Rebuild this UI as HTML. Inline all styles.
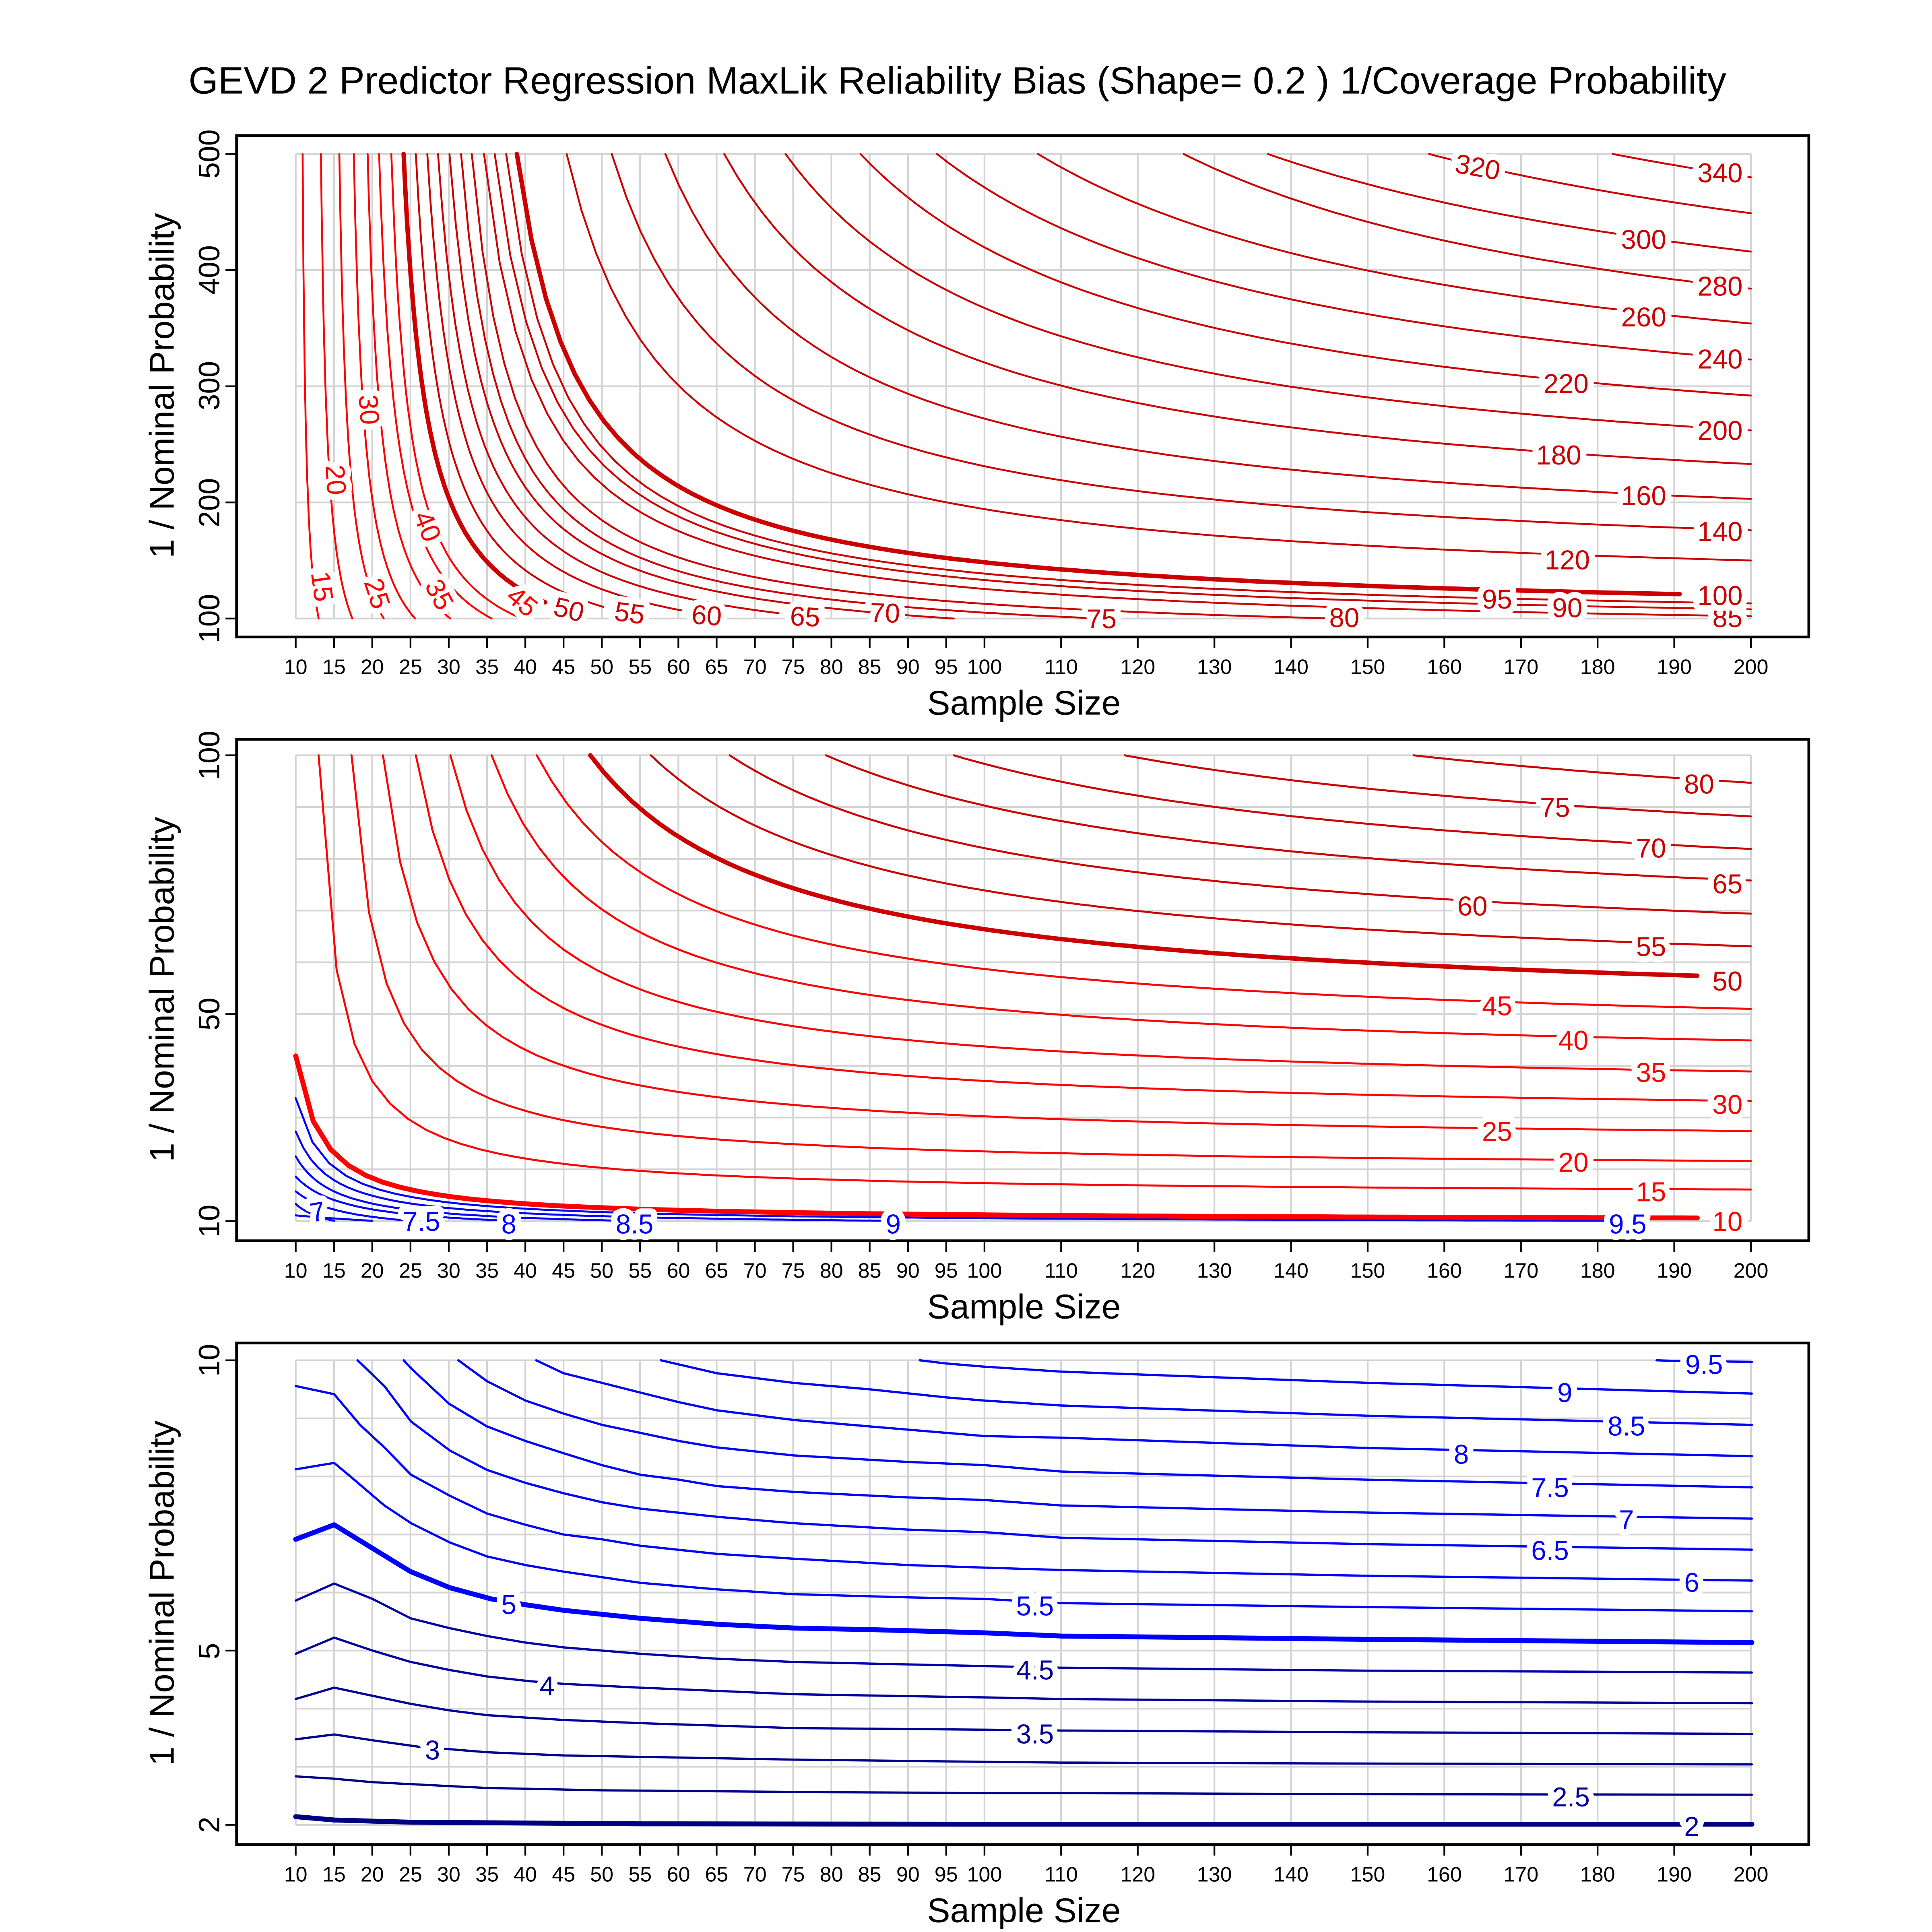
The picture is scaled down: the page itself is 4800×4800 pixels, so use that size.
<!DOCTYPE html>
<html><head><meta charset="utf-8">
<style>
html,body{margin:0;padding:0;background:#fff;}
svg{display:block;}
text{font-family:"Liberation Sans",Arial,sans-serif;}
.xt{font-size:17px;text-anchor:middle;fill:#000;}
.yt{font-size:24px;text-anchor:middle;fill:#000;}
.at{font-size:28px;text-anchor:middle;fill:#000;}
.cl{font-size:22px;text-anchor:middle;stroke:#fff;stroke-width:10px;paint-order:stroke;stroke-linejoin:round;}
.r{fill:#ff0000;} .d{fill:#cc0000;} .b{fill:#0000ff;} .n{fill:#00009a;}
</style></head><body>
<svg id="s" xmlns="http://www.w3.org/2000/svg" width="4800" height="4800" viewBox="0 0 1568 1568">
<rect width="1568" height="1568" fill="#fff"/>
<g id="grid"></g>
<g id="curves" fill="none" stroke-linejoin="round" stroke-linecap="round"></g>
<g id="frame"></g>
<text x="777" y="76" style="font-size:31px;text-anchor:middle">GEVD 2 Predictor Regression MaxLik Reliability Bias (Shape= 0.2 ) 1/Coverage Probability</text>

<!-- y axis titles -->
<text class="at" transform="translate(141,313) rotate(-90)">1 / Nominal Probability</text>
<text class="at" transform="translate(141,803) rotate(-90)">1 / Nominal Probability</text>
<text class="at" transform="translate(141,1293) rotate(-90)">1 / Nominal Probability</text>
<!-- x axis titles -->
<text class="at" x="831" y="580">Sample Size</text>
<text class="at" x="831" y="1070">Sample Size</text>
<text class="at" x="831" y="1560">Sample Size</text>

<!-- y tick labels -->
<text class="yt" transform="translate(178,502) rotate(-90)">100</text>
<text class="yt" transform="translate(178,408) rotate(-90)">200</text>
<text class="yt" transform="translate(178,313) rotate(-90)">300</text>
<text class="yt" transform="translate(178,219) rotate(-90)">400</text>
<text class="yt" transform="translate(178,125) rotate(-90)">500</text>
<text class="yt" transform="translate(178,991) rotate(-90)">10</text>
<text class="yt" transform="translate(178,823) rotate(-90)">50</text>
<text class="yt" transform="translate(178,613) rotate(-90)">100</text>
<text class="yt" transform="translate(178,1481) rotate(-90)">2</text>
<text class="yt" transform="translate(178,1340) rotate(-90)">5</text>
<text class="yt" transform="translate(178,1104) rotate(-90)">10</text>

<!-- x tick labels panel 1 -->
<g class="xt">
<text x="240" y="547">10</text><text x="271.1" y="547">15</text><text x="302.1" y="547">20</text><text x="333.2" y="547">25</text><text x="364.2" y="547">30</text><text x="395.3" y="547">35</text><text x="426.3" y="547">40</text><text x="457.4" y="547">45</text><text x="488.4" y="547">50</text><text x="519.5" y="547">55</text><text x="550.6" y="547">60</text><text x="581.6" y="547">65</text><text x="612.7" y="547">70</text><text x="643.7" y="547">75</text><text x="674.8" y="547">80</text><text x="705.8" y="547">85</text><text x="736.9" y="547">90</text><text x="767.9" y="547">95</text><text x="799" y="547">100</text><text x="861.2" y="547">110</text><text x="923.4" y="547">120</text><text x="985.6" y="547">130</text><text x="1047.8" y="547">140</text><text x="1110" y="547">150</text><text x="1172.2" y="547">160</text><text x="1234.4" y="547">170</text><text x="1296.6" y="547">180</text><text x="1358.8" y="547">190</text><text x="1421" y="547">200</text>
</g>
<g class="xt">
<text x="240" y="1037">10</text><text x="271.1" y="1037">15</text><text x="302.1" y="1037">20</text><text x="333.2" y="1037">25</text><text x="364.2" y="1037">30</text><text x="395.3" y="1037">35</text><text x="426.3" y="1037">40</text><text x="457.4" y="1037">45</text><text x="488.4" y="1037">50</text><text x="519.5" y="1037">55</text><text x="550.6" y="1037">60</text><text x="581.6" y="1037">65</text><text x="612.7" y="1037">70</text><text x="643.7" y="1037">75</text><text x="674.8" y="1037">80</text><text x="705.8" y="1037">85</text><text x="736.9" y="1037">90</text><text x="767.9" y="1037">95</text><text x="799" y="1037">100</text><text x="861.2" y="1037">110</text><text x="923.4" y="1037">120</text><text x="985.6" y="1037">130</text><text x="1047.8" y="1037">140</text><text x="1110" y="1037">150</text><text x="1172.2" y="1037">160</text><text x="1234.4" y="1037">170</text><text x="1296.6" y="1037">180</text><text x="1358.8" y="1037">190</text><text x="1421" y="1037">200</text>
</g>
<g class="xt">
<text x="240" y="1527">10</text><text x="271.1" y="1527">15</text><text x="302.1" y="1527">20</text><text x="333.2" y="1527">25</text><text x="364.2" y="1527">30</text><text x="395.3" y="1527">35</text><text x="426.3" y="1527">40</text><text x="457.4" y="1527">45</text><text x="488.4" y="1527">50</text><text x="519.5" y="1527">55</text><text x="550.6" y="1527">60</text><text x="581.6" y="1527">65</text><text x="612.7" y="1527">70</text><text x="643.7" y="1527">75</text><text x="674.8" y="1527">80</text><text x="705.8" y="1527">85</text><text x="736.9" y="1527">90</text><text x="767.9" y="1527">95</text><text x="799" y="1527">100</text><text x="861.2" y="1527">110</text><text x="923.4" y="1527">120</text><text x="985.6" y="1527">130</text><text x="1047.8" y="1527">140</text><text x="1110" y="1527">150</text><text x="1172.2" y="1527">160</text><text x="1234.4" y="1527">170</text><text x="1296.6" y="1527">180</text><text x="1358.8" y="1527">190</text><text x="1421" y="1527">200</text>
</g>

<!-- contour labels panel 1 -->
<g class="cl">
<text class="r" transform="translate(254,477) rotate(82)">15</text>
<text class="r" transform="translate(265,390) rotate(86)">20</text>
<text class="r" transform="translate(292,333) rotate(86)">30</text>
<text class="r" transform="translate(299,484) rotate(72)">25</text>
<text class="r" transform="translate(340,430) rotate(68)">40</text>
<text class="r" transform="translate(350,486) rotate(62)">35</text>
<text class="r" transform="translate(419,494) rotate(40)">45</text>
<text class="d" transform="translate(460,502) rotate(14)">50</text>
<text class="d" transform="translate(510,505) rotate(8)">55</text>
<text class="d" transform="translate(573,507) rotate(4)">60</text>
<text class="d" transform="translate(653,508) rotate(3)">65</text>
<text class="d" transform="translate(718,505) rotate(2)">70</text>
<text class="d" x="894" y="510">75</text>
<text class="d" x="1091" y="509">80</text>
<text class="d" x="1402" y="509">85</text>
<text class="d" x="1272" y="501">90</text>
<text class="d" x="1215" y="494">95</text>
<text class="d" x="1396" y="491">100</text>
<text class="d" x="1272" y="462">120</text>
<text class="d" x="1396" y="439">140</text>
<text class="d" x="1334" y="410">160</text>
<text class="d" x="1265" y="377">180</text>
<text class="d" x="1396" y="357">200</text>
<text class="d" x="1271" y="319">220</text>
<text class="d" x="1396" y="299">240</text>
<text class="d" x="1334" y="265">260</text>
<text class="d" x="1396" y="240">280</text>
<text class="d" x="1334" y="202">300</text>
<text class="d" transform="translate(1198,143) rotate(10)">320</text>
<text class="d" x="1396" y="148">340</text>
</g>
<!-- contour labels panel 2 -->
<g class="cl">
<text class="d" x="1379" y="644">80</text>
<text class="d" x="1262" y="663">75</text>
<text class="d" x="1340" y="696">70</text>
<text class="d" x="1402" y="725">65</text>
<text class="d" x="1195" y="743">60</text>
<text class="d" x="1340" y="776">55</text>
<text class="d" x="1402" y="804">50</text>
<text class="r" x="1215" y="824">45</text>
<text class="r" x="1277" y="852">40</text>
<text class="r" x="1340" y="878">35</text>
<text class="r" x="1402" y="904">30</text>
<text class="r" x="1215" y="926">25</text>
<text class="r" x="1277" y="951">20</text>
<text class="r" x="1340" y="975">15</text>
<text class="r" x="1402" y="999">10</text>
<text class="b" x="1321" y="1001">9.5</text>
<text class="b" x="725" y="1001">9</text>
<text class="b" x="515" y="1001">8.5</text>
<text class="b" x="413" y="1001">8</text>
<text class="b" x="342" y="999">7.5</text>
<text class="b" transform="translate(259,991) rotate(-10)">7</text>
</g>
<!-- contour labels panel 3 -->
<g class="cl">
<text class="b" x="1383" y="1115">9.5</text>
<text class="b" x="1270" y="1138">9</text>
<text class="b" x="1320" y="1165">8.5</text>
<text class="b" x="1186" y="1188">8</text>
<text class="b" x="1258" y="1215">7.5</text>
<text class="b" x="1320" y="1241">7</text>
<text class="b" x="1258" y="1266">6.5</text>
<text class="b" x="1373" y="1292">6</text>
<text class="b" x="840" y="1311">5.5</text>
<text class="b" x="413" y="1310">5</text>
<text class="n" x="840" y="1363">4.5</text>
<text class="n" x="444" y="1376">4</text>
<text class="n" x="840" y="1415">3.5</text>
<text class="n" x="351" y="1428">3</text>
<text class="n" x="1275" y="1466">2.5</text>
<text class="n" x="1373" y="1490">2</text>
</g>
</svg>
<script>
(function(){
var NS='http://www.w3.org/2000/svg';
function add(g,tag,a){var e=document.createElementNS(NS,tag);for(var k in a)e.setAttribute(k,a[k]);document.getElementById(g).appendChild(e);return e;}
function X(n){return n<=100?240+(n-10)*6.2111:799+(n-100)*6.22;}
var ticks=[];for(var n=10;n<=100;n+=5)ticks.push(n);for(n=110;n<=200;n+=10)ticks.push(n);
var P=[
 {top:110,Y:function(p){return 502-(p-100)*0.9425;},pmin:100,pmax:500,grid:[100,200,300,400,500]},
 {top:600,Y:function(p){return 991-(p-10)*4.2;},pmin:10,pmax:100,grid:[10,20,30,40,50,60,70,80,90,100]},
 {top:1090,Y:function(p){return 1481-(p-2)*47.125;},pmin:2,pmax:10,grid:[2,3,4,5,6,7,8,9,10]}
];
P.forEach(function(pn){
 var y0=pn.Y(pn.pmax),y1=pn.Y(pn.pmin);
 ticks.forEach(function(t){add('grid','line',{x1:X(t),x2:X(t),y1:y0,y2:y1,stroke:'#d3d3d3','stroke-width':1.4});
   add('frame','line',{x1:X(t),x2:X(t),y1:pn.top+407,y2:pn.top+416,stroke:'#000','stroke-width':1.4});});
 pn.grid.forEach(function(p){add('grid','line',{x1:240,x2:1421,y1:pn.Y(p),y2:pn.Y(p),stroke:'#d3d3d3','stroke-width':1.4});});
 add('frame','rect',{x:192,y:pn.top,width:1276,height:407,fill:'none',stroke:'#000','stroke-width':2.2});
});
[[0,[100,200,300,400,500]],[1,[10,50,100]],[2,[2,5,10]]].forEach(function(a){
 var pn=P[a[0]];a[1].forEach(function(p){add('frame','line',{x1:183,x2:192,y1:pn.Y(p),y2:pn.Y(p),stroke:'#000','stroke-width':1.4});});});

function path(pts,col,w){var d='';pts.forEach(function(q,i){d+=(i?'L':'M')+q[0].toFixed(1)+' '+q[1].toFixed(1);});
 add('curves','path',{d:d,stroke:col,'stroke-width':w});}
function hyper(pn,L,n1,p1,n2,p2,col,w){
 var a=p1-L,b=p2-L,n0=(n1*a-n2*b)/(a-b),k=(n1-n0)*a,pts=[];
 for(var i=0;i<=80;i++){var nn=n1+(n2-n1)*i/80;var p=L+k/(nn-n0);pts.push([X(nn),pn.Y(p)]);}
 path(pts,col,w);}
var R='#ff0000',D='#cc0000',B='#0000ff';
var p1=P[0];
[[15,10.9,500,13.0,100],[20,13.3,500,17.4,100],[25,15.7,500,21.5,100],[30,17.6,500,25.6,100],
 [35,19.4,500,30.2,100],[40,20.9,500,35.6,100],[45,22.5,500,39.5,100]].forEach(function(c){hyper(p1,c[0],c[1],c[2],c[3],c[4],R,1.5);});
hyper(p1,50,24.1,500,42.6,114,D,3.6);
[[55,25.7,500,50.2,110],[60,27.2,500,60.4,107],[65,28.6,500,73.1,104.6],[70,30.1,500,96,100],
 [75,31.6,500,115,100],[80,33.0,500,146,100],[85,34.6,500,200,102],[90,36.0,500,200,108],[95,37.5,500,200,113]].forEach(function(c){hyper(p1,c[0],c[1],c[2],c[3],c[4],D,1.5);});
hyper(p1,100,38.9,500,190.7,121,D,3.6);
[[120,45.4,150],[140,51.3,176],[160,58.3,203],[180,66,233],[200,74,262],[220,83.8,292],[240,93.8,323],
 [260,107,354],[280,126,384],[300,137,416],[320,158,449],[340,182,480]].forEach(function(c){hyper(p1,c[0],c[1],500,200,c[2],D,1.5);});
var p2=P[1];
[[15,13.0,16.1],[20,17.3,21.6],[25,21.4,27.4],[30,25.7,33.2],[35,30.2,38.9],[40,35.6,44.9],[45,41.5,51]].forEach(function(c){hyper(p2,c[0],c[1],100,200,c[2],R,1.6);});
hyper(p2,50,48.5,100,193,57.4,D,3.6);
[[55,56.4,63.1],[60,66.7,69.4],[65,79.3,75.8],[70,96,81.9],[75,118.3,88.2],[80,156,94.7]].forEach(function(c){hyper(p2,c[0],c[1],100,200,c[2],D,1.6);});
[[6.5,11.1,20],[7,13.3,15],[7.5,15.75,25],[8,18.6,38],[8.5,22.5,53],[9,27.3,88],[9.5,33.75,185]].forEach(function(c){hyper(p2,c[0],10,c[1],c[2],10.05,B,1.6);});
hyper(p2,10,10,41.9,193,10.6,R,4);
function ln(zx){return 10+(zx-28)/15.72;} function rn(zx){return 110+(zx-115)/15.7;}
function Y3(zy){return 1104+(zy-50)*0.2618;}
var C3=[
 [9.5,[],[[1335,50],[1372,52],[1530,55]]],
 [9,[[1310,50],[1364,60],[1443,70]],[[115,85],[743,120],[1530,153]]],
 [8.5,[[778,50],[893,90],[1050,120],[1208,140],[1364,165],[1443,175]],[[115,190],[743,222],[1530,250]]],
 [8,[[522,50],[578,90],[657,120],[736,150],[815,180],[893,205],[1050,235],[1208,255],[1364,275],[1443,285]],[[115,290],[743,322],[1530,347]]],
 [7.5,[[362,50],[421,115],[500,175],[578,215],[657,250],[736,275],[815,300],[893,320],[1050,345],[1286,365],[1443,375]],[[115,395],[743,420],[1530,444]]],
 [7,[[250,50],[265,75],[343,185],[421,255],[500,300],[578,338],[657,375],[736,405],[815,420],[893,440],[1050,458],[1286,475],[1443,483]],[[115,500],[743,522],[1530,541]]],
 [6.5,[[155,50],[210,130],[265,240],[345,330],[421,390],[500,430],[578,462],[657,490],[736,510],[893,535],[1050,555],[1286,575],[1443,583]],[[115,600],[743,620],[1530,637]]],
 [6,[[28,130],[107,155],[160,250],[210,320],[265,405],[345,470],[421,525],[500,560],[578,590],[657,605],[736,625],[893,650],[1050,665],[1286,685],[1443,693]],[[115,700],[743,718],[1530,733]]],
 [5.5,[[28,388],[107,368],[140,410],[210,500],[265,555],[345,615],[421,658],[500,685],[578,705],[736,740],[893,760],[1050,775],[1286,785],[1443,790]],[[115,803],[743,815],[1530,828]]],
 [5,[[28,605],[107,560],[264,705],[345,755],[430,790],[500,808],[578,825],[736,850],[893,868],[1050,880],[1208,885],[1443,895]],[[115,905],[743,915],[1530,925]]],
 [4.5,[[28,795],[107,742],[186,790],[264,850],[343,880],[421,905],[500,925],[578,940],[736,960],[893,975],[1050,985],[1443,998]],[[115,1003],[743,1012],[1530,1018]]],
 [4,[[28,960],[107,910],[186,950],[264,985],[343,1010],[421,1030],[510,1045],[578,1053],[736,1065],[893,1075],[1050,1085],[1443,1095]],[[115,1100],[743,1108],[1530,1113]]],
 [3.5,[[28,1100],[107,1065],[186,1090],[264,1115],[343,1135],[421,1150],[578,1165],[736,1175],[1050,1190],[1443,1195]],[[115,1198],[743,1203],[1530,1208]]],
 [3,[[28,1225],[107,1210],[186,1228],[280,1248],[421,1265],[578,1275],[1050,1288],[1443,1295]],[[115,1297],[743,1300],[1530,1303]]],
 [2.5,[[28,1340],[107,1347],[186,1358],[343,1370],[421,1376],[657,1383],[1050,1388],[1443,1392]],[[115,1392],[743,1395],[1530,1397]]],
 [2,[[28,1465],[107,1475],[264,1482],[736,1487],[1443,1488]],[[115,1488],[743,1488],[1530,1488]]]
];
C3.forEach(function(c){
 var L=c[0],pts=[];
 c[1].forEach(function(q){pts.push([X(ln(q[0])),Y3(q[1])]);});
 c[2].forEach(function(q){pts.push([X(rn(q[0])),Y3(q[1])]);});
 var col=L>=5?B:'rgb(0,0,'+Math.round(128+(L-2)*16)+')';
 var w=(L==5||L==2)?4:1.8;
 path(pts,col,w);
});
})();
</script>
</body></html>
